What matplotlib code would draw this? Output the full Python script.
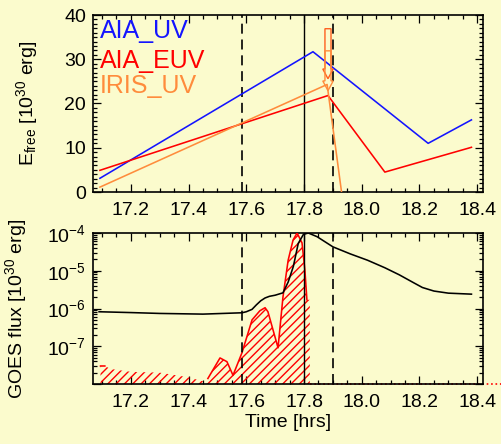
import numpy as np
import matplotlib
matplotlib.use('Agg')
import matplotlib.pyplot as plt
from matplotlib.patches import FancyArrow
from matplotlib.ticker import MultipleLocator, FixedLocator, LogLocator, NullFormatter

plt.rcParams['font.family'] = ['Liberation Sans', 'DejaVu Sans']
plt.rcParams['mathtext.fontset'] = 'custom'
plt.rcParams['mathtext.rm'] = 'Liberation Sans'
plt.rcParams['mathtext.it'] = 'Liberation Sans:italic'
plt.rcParams['mathtext.bf'] = 'Liberation Sans:bold'
plt.rcParams['hatch.linewidth'] = 1.0

BG = '#FBFBCD'
BLUE = '#1414FF'
RED = '#FF0000'
ORANGE = '#FF8C3C'

# ---- free magnetic energy (10^30 erg) vs time (hrs) ----
aia_uv_t = [17.093, 17.831, 18.230, 18.380]
aia_uv_e = [3.1, 31.7, 11.0, 16.3]
aia_euv_t = [17.093, 17.883, 18.080, 18.380]
aia_euv_e = [4.9, 21.8, 4.5, 10.1]
iris_uv_t = [17.093, 17.880, 18.080]
iris_uv_e = [1.1, 24.3, -73.0]

# hollow arrows marking the energy drop
arrow_t = [17.883, 17.883]
arrow_top = [36.9, 31.9]
arrow_tip = [25.6, 22.9]
arrow_colors = ['#FF5F1F', ORANGE]

# event times (hrs) and their line styles
event_t = [17.585, 17.800, 17.900]
event_style = ['dash', 'solid', 'dash']

# ---- GOES flux ----
goes_t = [17.09, 17.20, 17.30, 17.45, 17.585, 17.60, 17.62, 17.635, 17.65,
          17.665, 17.68, 17.70, 17.727, 17.745, 17.763, 17.78, 17.798, 17.815,
          17.845, 17.90, 17.96, 18.02, 18.08, 18.13, 18.18, 18.21, 18.25,
          18.30, 18.38]
goes_f = [8.2e-7, 7.8e-7, 7.4e-7, 7.1e-7, 7.7e-7, 8.2e-7, 9.5e-7, 1.25e-6,
          1.6e-6, 1.9e-6, 2.1e-6, 2.25e-6, 2.6e-6, 5.0e-6, 1.3e-5, 5.3e-5,
          9.2e-5, 1.0e-4, 8.0e-5, 4.3e-5, 2.8e-5, 1.9e-5, 1.2e-5, 7.8e-6,
          4.8e-6, 3.6e-6, 2.9e-6, 2.55e-6, 2.4e-6]

# ---- EUV energy-release rate (hatched) ----
euv_t = [17.095, 17.110, 17.13, 17.20, 17.30, 17.40, 17.455, 17.467, 17.509,
         17.533, 17.554, 17.585, 17.62, 17.647, 17.665, 17.675, 17.71, 17.727,
         17.745, 17.762, 17.776, 17.793, 17.803, 17.81]
euv_f = [3.0e-8, 3.0e-8, 2.5e-8, 2.1e-8, 2.0e-8, 1.5e-8, 1.15e-8, 1.4e-8,
         4.9e-8, 3.9e-8, 1.7e-8, 6.7e-8, 5.0e-7, 8.7e-7, 1.05e-6, 8.2e-7,
         9.1e-8, 2.0e-6, 1.9e-5, 6.5e-5, 1.0e-4, 5.5e-5, 1.05e-5, 1.7e-6]
euv_fill_end = 17.82
euv_tail_t = [17.82, 18.60]
euv_tail_f = [1.0e-8, 1.0e-8]

XMIN, XMAX = 17.069, 18.42

fig = plt.figure(figsize=(5.01, 4.44), dpi=100, facecolor=BG)
ax1 = fig.add_axes([93 / 501, 1 - 192 / 444, 390 / 501, 177 / 444], facecolor=BG)
ax2 = fig.add_axes([93 / 501, 1 - 384 / 444, 390 / 501, 151 / 444], facecolor=BG)

LW = 1.15


def draw_events(ax):
    for t, s in zip(event_t, event_style):
        if s == 'solid':
            ax.axvline(t, color='black', lw=1.0, zorder=3)
        else:
            ax.axvline(t, color='black', lw=1.2, dashes=(6, 3.5), zorder=3)


def style_axis(ax):
    for sp in ax.spines.values():
        sp.set_linewidth(1.2)
    ax.tick_params(which='both', direction='in', top=True, right=True,
                   labelsize=14, width=0.9, colors='black')
    ax.tick_params(which='major', length=6)
    ax.tick_params(which='minor', length=3)
    ax.tick_params(axis='x', which='major', pad=7)
    ax.tick_params(axis='y', which='major', pad=5)
    ax.set_xlim(XMIN, XMAX)
    ax.xaxis.set_major_locator(MultipleLocator(0.2))
    ax.xaxis.set_minor_locator(MultipleLocator(0.05))
    ax.xaxis.set_major_formatter(plt.FuncFormatter(lambda v, p: f'{v:.1f}'))


# ---------------- top panel ----------------
ax1.plot(aia_uv_t, aia_uv_e, color=BLUE, lw=LW, zorder=4)
ax1.plot(aia_euv_t, aia_euv_e, color=RED, lw=LW, zorder=4)
ax1.plot(iris_uv_t, iris_uv_e, color=ORANGE, lw=LW, zorder=4)
draw_events(ax1)
for t, top, tip, c in zip(arrow_t, arrow_top, arrow_tip, arrow_colors):
    ax1.add_patch(FancyArrow(t, top, 0, tip - top, width=0.021,
                             head_width=0.036, head_length=2.2,
                             length_includes_head=True, facecolor='none',
                             edgecolor=c, lw=1.0, zorder=5))
ax1.set_ylim(0, 40)
ax1.yaxis.set_major_locator(MultipleLocator(10))
ax1.yaxis.set_minor_locator(MultipleLocator(1))
style_axis(ax1)
ax1.set_ylabel(r'E$_{\rm free}$ [10$^{30}$ erg]', fontsize=14)
ax1.yaxis.set_label_coords(-0.136, 0.5)

for label, c, yb in [('AIA_UV', BLUE, 0.870), ('AIA_EUV', RED, 0.700),
                     ('IRIS_UV', ORANGE, 0.558)]:
    ax1.text(0.018, yb, label, color=c, fontsize=18, va='baseline',
             transform=ax1.transAxes)

# ---------------- bottom panel ----------------
ax2.set_yscale('log')
ax2.set_ylim(1e-8, 1e-4)
fill_t = euv_t + [euv_fill_end]
fill_f = euv_f + [euv_f[-1]]
ax2.fill_between(fill_t, fill_f, 1e-8, facecolor='none', edgecolor=RED,
                 hatch='////', linewidth=0, zorder=2)
euv_line = np.array(euv_f, dtype=float)
euv_time = np.array(euv_t)
euv_line[(euv_time > 17.115) & (euv_time < 17.46)] = np.nan
ax2.plot(euv_time, euv_line, color=RED, lw=LW, zorder=3)
ax2.plot(euv_tail_t, euv_tail_f, color=RED, lw=1.2, ls=':', clip_on=False,
         zorder=1)
ax2.plot(goes_t, goes_f, color='black', lw=LW, zorder=4)
draw_events(ax2)
style_axis(ax2)
ax2.yaxis.set_major_locator(FixedLocator([1e-8, 1e-7, 1e-6, 1e-5, 1e-4]))
ax2.yaxis.set_major_formatter(plt.FuncFormatter(
    lambda v, p: '' if v < 5e-8 else r'$10^{%d}$' % int(round(np.log10(v)))))
ax2.yaxis.set_minor_locator(LogLocator(base=10, subs=np.arange(2, 10), numticks=20))
ax2.yaxis.set_minor_formatter(NullFormatter())
ax2.set_ylabel(r'GOES flux [10$^{30}$ erg]', fontsize=14)
ax2.yaxis.set_label_coords(-0.164, 0.5)
ax2.set_xlabel('Time [hrs]', fontsize=14, labelpad=2)

fig.savefig('out.png', dpi=100, facecolor=BG)
